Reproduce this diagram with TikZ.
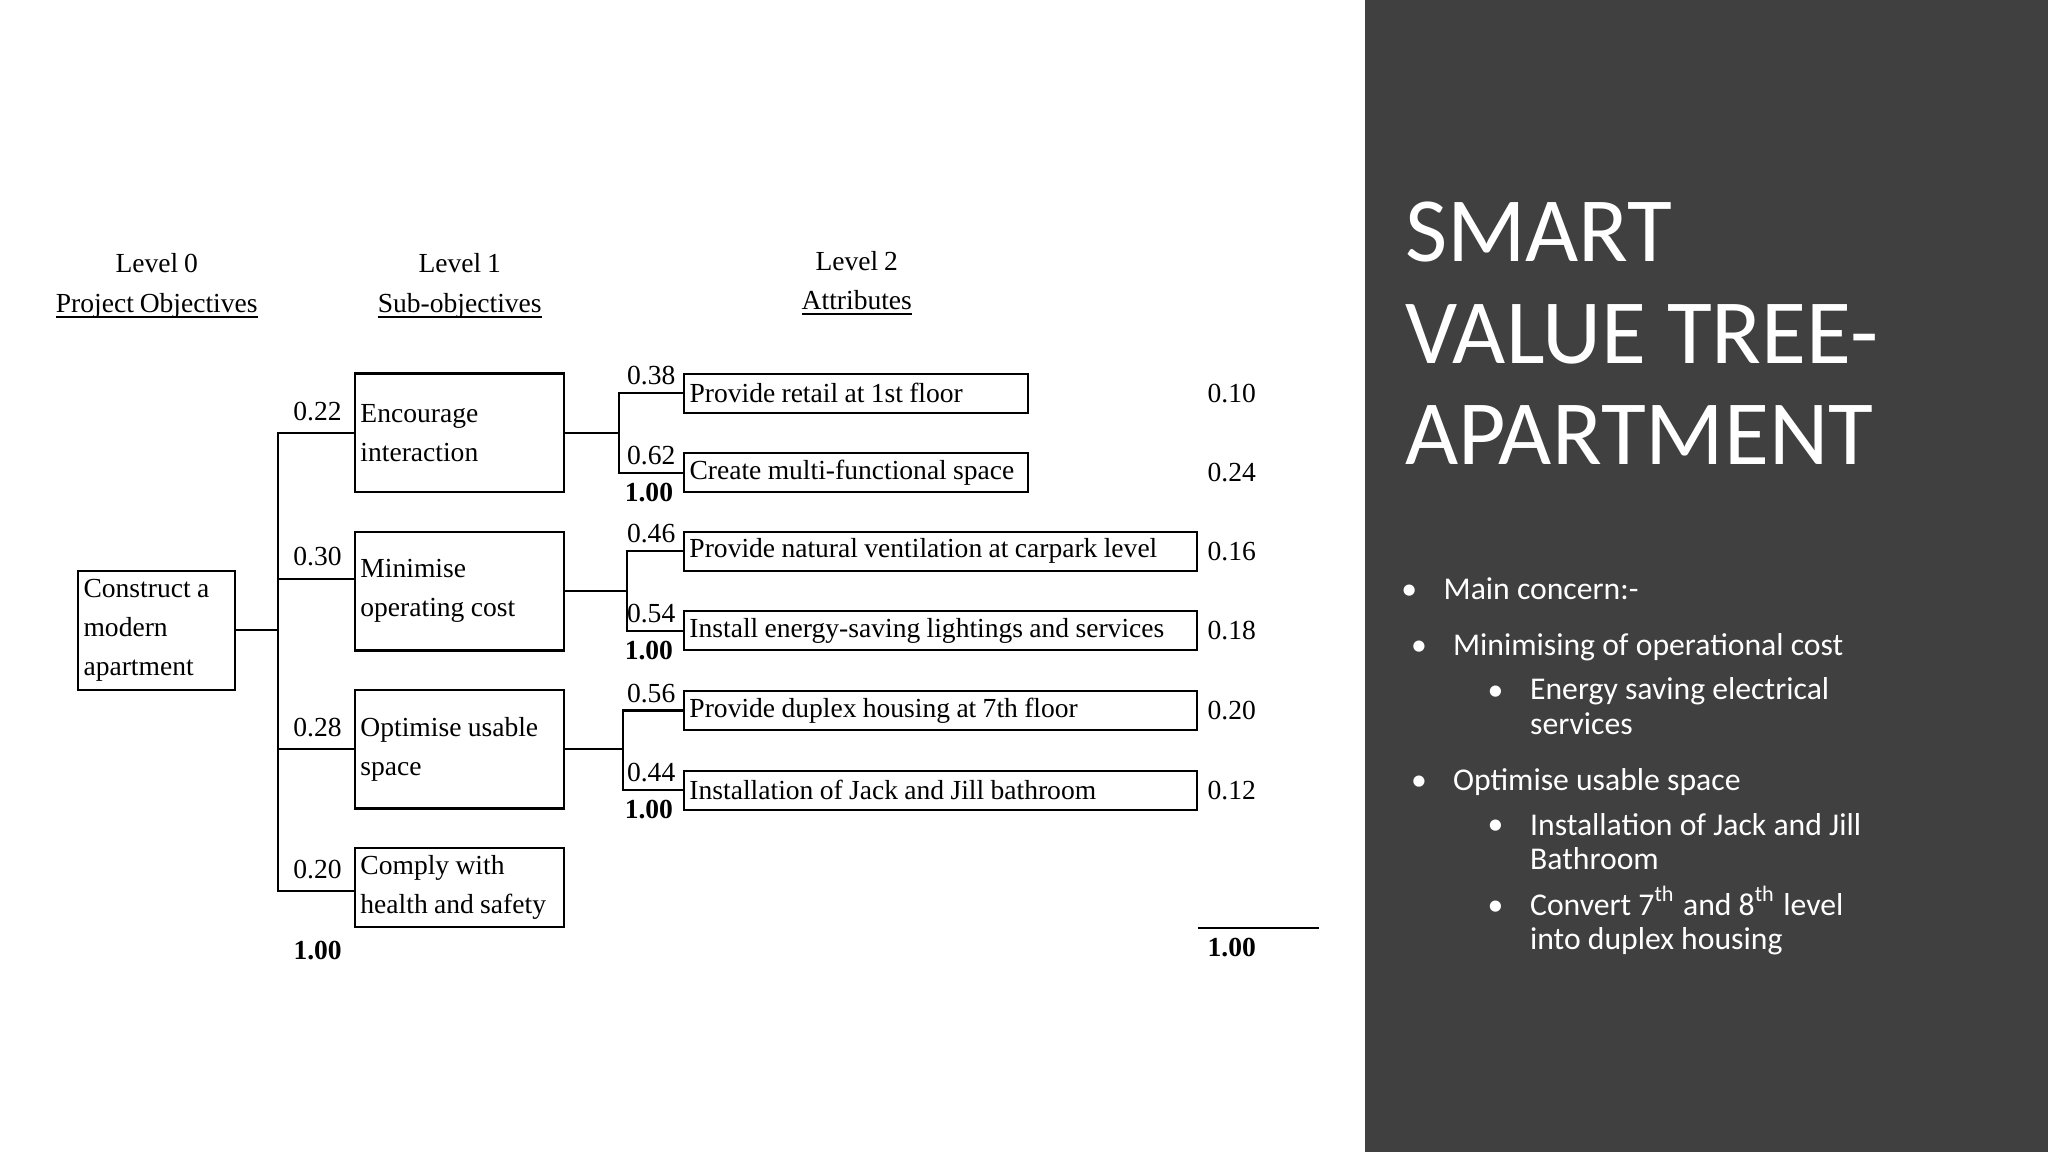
\documentclass[tikz,border=0pt]{standalone}
\usepackage{fontspec}
\setmainfont{Liberation Serif}[WordSpace=0.85]
\newfontfamily\slidefont{Carlito}
\usepackage{tikz}
\usetikzlibrary{positioning, calc}
\definecolor{panelgray}{RGB}{64, 64, 64}
\newcommand{\ulhead}[1]{\setbox0=\hbox{#1}\rlap{\rule[-1.2pt]{\wd0}{0.4pt}}\box0}

\begin{document}
\begin{tikzpicture}[
        x=0.01cm, y=-0.01cm,
        treefont/.style={font=\fontsize{6}{8.54}\selectfont},
        header/.style={treefont, align=center, anchor=base, inner sep=0pt},
        objbox/.style={treefont, draw, line width=0.45pt, text width=1.52cm, align=left, minimum height=0.91cm, inner xsep=0.04cm, inner ysep=0pt,
            execute at begin node={\spaceskip=0.23em plus 0.1em\relax}},
        attrbox/.style={objbox, minimum height=0.30cm},
        link/.style={line width=0.45pt},
        weight/.style={treefont, inner xsep=2.5pt, inner ysep=2.5pt},
        lweight/.style={treefont, inner sep=1.5pt},
        val/.style={treefont, inner sep=2pt, anchor=west},
        total/.style={font=\fontsize{6}{8.54}\selectfont\bfseries, inner sep=2pt},
        title/.style={font=\slidefont\fontsize{20}{22.2}\selectfont, text=white, align=left, anchor=base west, inner sep=0pt},
        item/.style={font=\slidefont\fontsize{6.9}{7.45}\selectfont, text=white, align=left, anchor=base west, inner sep=0pt},
        dot/.style={item, anchor=base}
    ]
        \useasboundingbox (0,0) rectangle (1568,882);
        \fill[panelgray] (1045,0) rectangle (1568,882);

        % Headers (base = last line)
        \node[header] (hd0) at (120, 239) {Level 0\\\ulhead{Project Objectives}};
        \node[header] (hd1) at (352, 239) {Level 1\\\ulhead{Sub-objectives}};
        \node[header] (hd2) at (656, 237) {Level 2\\\ulhead{Attributes}};

        % Nodes
        \node[objbox, text width=1.12cm] (root) at (120, 482.5) {Construct a\\modern\\apartment};
        \node[objbox] (enc) at (352, 331.5) {Encourage\\interaction};
        \node[objbox] (mini) at (352, 452.5) {Minimise\\operating cost};
        \node[objbox] (opt) at (352, 573.5) {Optimise usable\\space};
        \node[objbox, minimum height=0.61cm] (comp) at (352, 679.5) {Comply with\\health and safety};

        \node[attrbox, text width=2.55cm] (retail) at (655.5, 301) {Provide retail at 1st floor};
        \node[attrbox, text width=2.55cm] (create) at (655.5, 362) {Create multi-functional space};
        \node[attrbox, text width=3.84cm] (vent) at (720, 422) {Provide natural ventilation at carpark level};
        \node[attrbox, text width=3.84cm] (inst) at (720, 483) {Install energy-saving lightings and services};
        \node[attrbox, text width=3.84cm] (dup) at (720, 544) {Provide duplex housing at 7th floor};
        \node[attrbox, text width=3.84cm] (jack) at (720, 605) {Installation of Jack and Jill bathroom};

        % Edges
        \coordinate (trunk) at (213, 482.5);
        \coordinate (miniIn) at ([yshift=0.095cm]mini.west);
        \coordinate (compIn) at ([yshift=-0.03cm]comp.west);
        \draw[link] (root.east) -- (trunk);
        \draw[link] (trunk) |- (enc.west) node[weight, anchor=south east] (w-enc) {0.22};
        \draw[link] (trunk) |- (miniIn) node[weight, anchor=south east] (w-mini) {0.30};
        \draw[link] (trunk) |- (opt.west) node[weight, anchor=south east] (w-opt) {0.28};
        \draw[link] (trunk) |- (compIn) node[weight, anchor=south east] (w-comp) {0.20};
        \node[total, anchor=north east, inner sep=2.5pt] (t-root) at (comp.south west) {1.00};

        \coordinate (fork1) at ($(enc.east)+(41,0)$);
        \coordinate (fork2) at ($(mini.east)+(47,0)$);
        \coordinate (fork3) at ($(opt.east)+(44,0)$);
        \draw[link] (enc.east) -- (fork1);
        \draw[link] (mini.east) -- (fork2);
        \draw[link] (opt.east) -- (fork3);

        \draw[link] (fork1) |- (retail.west) node[lweight, anchor=south east] (w-ret) {0.38};
        \draw[link] (fork1) |- (create.west) node[lweight, anchor=south east] (w-cre) {0.62}
            node[total, anchor=north east] (t-enc) {1.00};
        \draw[link] (fork2) |- (vent.west) node[lweight, anchor=south east] (w-vent) {0.46};
        \draw[link] (fork2) |- (inst.west) node[lweight, anchor=south east] (w-inst) {0.54}
            node[total, anchor=north east] (t-mini) {1.00};
        \draw[link] (fork3) |- (dup.west) node[lweight, anchor=south east] (w-dup) {0.56};
        \draw[link] (fork3) |- (jack.west) node[lweight, anchor=south east] (w-jack) {0.44}
            node[total, anchor=north east] (t-opt) {1.00};

        % Overall weights
        \node[val] (v-ret) at (retail -| vent.east) {0.10};
        \node[val] (v-cre) at (create -| vent.east) {0.24};
        \node[val] (v-vent) at (vent.east) {0.16};
        \node[val] (v-inst) at (inst.east) {0.18};
        \node[val] (v-dup) at (dup.east) {0.20};
        \node[val] (v-jack) at (jack.east) {0.12};
        \coordinate (sumL) at (jack.east |- comp.south);
        \coordinate (sumR) at ($(sumL)+(93,0)$);
        \draw[link] (sumL) -- (sumR);
        \node[total, anchor=north west] (t-all) at (sumL) {1.00};

        % Side panel (base = last line)
        \node[title] (ttl) at (1075, 356) {SMART\\VALUE TREE-\\APARTMENT};
        \node[dot] (b1) at (1079, 459) {•};
        \node[item] (i1) at (1104.6, 459) {Main concern:-};
        \node[dot] (b2) at (1086.4, 501.5) {•};
        \node[item] (i2) at (1111.8, 501.5) {Minimising of operational cost};
        \node[dot] (b3) at (1145, 536) {•};
        \node[item] (i3) at (1170.8, 562) {Energy saving electrical\\services};
        \node[dot] (b4) at (1086.4, 605) {•};
        \node[item] (i4) at (1111.8, 605) {Optimise usable space};
        \node[dot] (b5) at (1145, 639.3) {•};
        \node[item] (i5) at (1170.8, 666) {Installation of Jack and Jill\\Bathroom};
        \node[dot] (b6) at (1145, 700.6) {•};
        \node[item] (i6) at (1170.8, 727) {Convert 7\textsuperscript{th} and 8\textsuperscript{th} level\\into duplex housing};
    \end{tikzpicture}
\end{document}
